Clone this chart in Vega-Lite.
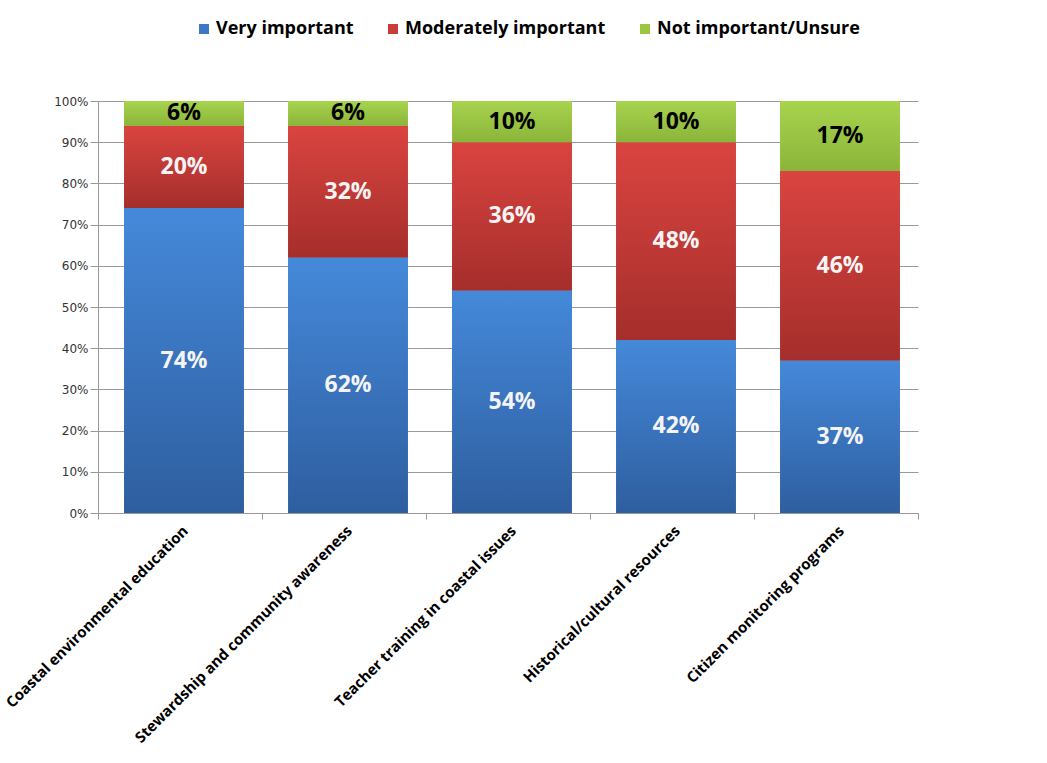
{
  "$schema": "https://vega.github.io/schema/vega-lite/v6.json",
  "width": 820,
  "height": 412,
  "autosize": "none",
  "padding": {"left": 98, "top": 101, "right": 129, "bottom": 250},
  "background": "white",
  "config": {"view": {"stroke": null}, "font": "Open Sans"},
  "data": {"values": [
    {"item": "Coastal environmental education", "series": "Very important", "value": 74},
    {"item": "Coastal environmental education", "series": "Moderately important", "value": 20},
    {"item": "Coastal environmental education", "series": "Not important/Unsure", "value": 6},
    {"item": "Stewardship and community awareness", "series": "Very important", "value": 62},
    {"item": "Stewardship and community awareness", "series": "Moderately important", "value": 32},
    {"item": "Stewardship and community awareness", "series": "Not important/Unsure", "value": 6},
    {"item": "Teacher training in coastal issues", "series": "Very important", "value": 54},
    {"item": "Teacher training in coastal issues", "series": "Moderately important", "value": 36},
    {"item": "Teacher training in coastal issues", "series": "Not important/Unsure", "value": 10},
    {"item": "Historical/cultural resources", "series": "Very important", "value": 42},
    {"item": "Historical/cultural resources", "series": "Moderately important", "value": 48},
    {"item": "Historical/cultural resources", "series": "Not important/Unsure", "value": 10},
    {"item": "Citizen monitoring programs", "series": "Very important", "value": 37},
    {"item": "Citizen monitoring programs", "series": "Moderately important", "value": 46},
    {"item": "Citizen monitoring programs", "series": "Not important/Unsure", "value": 17}
  ]},
  "transform": [
    {"calculate": "indexof(['Very important','Moderately important','Not important/Unsure'], datum.series)", "as": "rank"},
    {"stack": "value", "groupby": ["item"], "sort": [{"field": "rank", "order": "ascending"}], "as": ["v0", "v1"]},
    {"calculate": "(datum.v0 + datum.v1) / 2", "as": "mid"},
    {"calculate": "datum.value + '%'", "as": "label"}
  ],
  "encoding": {
    "x": {
      "field": "item", "type": "nominal", "sort": null,
      "scale": {"paddingInner": 0, "paddingOuter": 0},
      "axis": {
        "title": null, "labelAngle": -45, "labelFontSize": 15, "labelFontWeight": "bold",
        "labelFont": "Open Sans",
        "labelColor": "black", "tickBand": "extent", "tickSize": 6, "tickColor": "#999999",
        "domainColor": "#999999", "labelPadding": 4, "labelLimit": 400
      }
    }
  },
  "layer": [
    {
      "mark": {"type": "bar", "width": {"band": 0.73}, "xOffset": 4},
      "encoding": {
        "y": {
          "field": "v0", "type": "quantitative", "scale": {"domain": [0, 100]},
          "axis": {
            "title": null, "values": [0, 10, 20, 30, 40, 50, 60, 70, 80, 90, 100],
            "labelExpr": "datum.value + '%'", "labelFontSize": 12, "labelColor": "#333333",
            "labelFont": "DejaVu Sans", "tickSize": 8, "tickColor": "#999999", "domainColor": "#999999",
            "gridColor": "#999999", "labelPadding": 2
          }
        },
        "y2": {"field": "v1"},
        "color": {
          "field": "series", "type": "nominal",
          "scale": {
            "domain": ["Very important", "Moderately important", "Not important/Unsure"],
            "range": ["#3C78C4", "#C93C38", "#9CC640"]
          },
          "legend": {
            "title": null, "orient": "none", "legendX": 97, "legendY": -81,
            "direction": "horizontal", "symbolType": "square", "symbolSize": 100,
            "labelFont": "Open Sans", "labelOffset": 3,
            "labelFontSize": 18, "labelFontWeight": "bold", "labelColor": "black",
            "columnPadding": 30, "symbolStrokeWidth": 0, "labelLimit": 0
          }
        }
      }
    },
    {
      "transform": [{"filter": "datum.series === 'Very important'"}],
      "mark": {"type": "bar", "width": {"band": 0.73}, "xOffset": 4,
        "fill": {"gradient": "linear", "x1": 0, "y1": 0, "x2": 0, "y2": 1, "stops": [{"offset": 0, "color": "#4589DA"}, {"offset": 1, "color": "#2E5E9F"}]}},
      "encoding": {"y": {"field": "v0", "type": "quantitative"}, "y2": {"field": "v1"}}
    },
    {
      "transform": [{"filter": "datum.series === 'Moderately important'"}],
      "mark": {"type": "bar", "width": {"band": 0.73}, "xOffset": 4,
        "fill": {"gradient": "linear", "x1": 0, "y1": 0, "x2": 0, "y2": 1, "stops": [{"offset": 0, "color": "#DA4440"}, {"offset": 1, "color": "#A52E2B"}]}},
      "encoding": {"y": {"field": "v0", "type": "quantitative"}, "y2": {"field": "v1"}}
    },
    {
      "transform": [{"filter": "datum.series === 'Not important/Unsure'"}],
      "mark": {"type": "bar", "width": {"band": 0.73}, "xOffset": 4,
        "fill": {"gradient": "linear", "x1": 0, "y1": 0, "x2": 0, "y2": 1, "stops": [{"offset": 0, "color": "#A8D34E"}, {"offset": 1, "color": "#8BB53A"}]}},
      "encoding": {"y": {"field": "v0", "type": "quantitative"}, "y2": {"field": "v1"}}
    },
    {
      "mark": {"type": "text", "fontSize": 23, "fontWeight": "bold", "font": "Open Sans", "xOffset": 4},
      "encoding": {
        "y": {"field": "mid", "type": "quantitative"},
        "text": {"field": "label"},
        "color": {
          "condition": {"test": "datum.series === 'Not important/Unsure'", "value": "black"},
          "value": "#F4F4F4"
        }
      }
    }
  ]
}
